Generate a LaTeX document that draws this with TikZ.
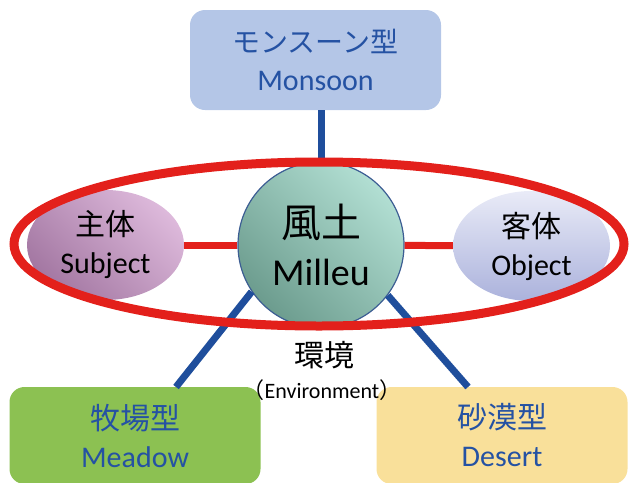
\documentclass[tikz,border=0pt]{standalone}
\usepackage{fontspec}
\setmainfont{Carlito}
\newfontfamily\jp{Noto Sans CJK JP}
\usetikzlibrary{shapes.geometric}

\definecolor{boxblue}{HTML}{B4C6E7}
\definecolor{boxgreen}{HTML}{8CC152}
\definecolor{boxyellow}{HTML}{F9E09A}
\definecolor{labelblue}{HTML}{2552A3}
\definecolor{linkblue}{HTML}{1F4E9C}
\definecolor{ringred}{HTML}{E3201B}
\definecolor{tealhi}{HTML}{B2DFD3}
\definecolor{teallo}{HTML}{6C9C8E}
\definecolor{plumhi}{HTML}{DDB9DB}
\definecolor{plumlo}{HTML}{A377A2}
\definecolor{lilachi}{HTML}{E9EBF7}
\definecolor{lilaclo}{HTML}{ABB2DC}

\begin{document}
\begin{tikzpicture}[x=1pt, y=-1pt,
    region/.style={rounded corners=15pt, minimum width=251pt, minimum height=100pt,
        inner sep=0pt, align=center, text=labelblue, font=\fontsize{30}{38}\selectfont},
    side/.style={ellipse, minimum width=157pt, minimum height=110pt, inner sep=0pt,
        align=center, font=\fontsize{30}{38}\selectfont},
    blueline/.style={linkblue, line width=7pt},
    redline/.style={ringred, line width=7pt}]
    \path[use as bounding box, clip] (0, 0) rectangle (629, 482);

    % Monsoon type
    \node[region, fill=boxblue] (monsoon) at (315.5, 60)
        {{\jp\fontsize{28}{38}\selectfont モンスーン型}\\Monsoon};
    % Meadow type
    \node[region, fill=boxgreen, minimum height=97pt] (meadow) at (135, 435.5)
        {{\jp 牧場型}\\Meadow};
    % Desert type
    \node[region, fill=boxyellow, minimum height=97pt] (desert) at (502, 435.5)
        {{\jp 砂漠型}\\Desert};

    % Milieu
    \node[circle, minimum size=166pt, inner sep=0pt, align=center,
        draw=linkblue!70!gray, line width=1.2pt,
        top color=tealhi, bottom color=teallo, shading angle=-45,
        font=\fontsize{38}{48}\selectfont] (milieu) at (321, 245)
        {{\jp\fontsize{40}{48}\selectfont 風土}\\Milleu};
    % Subject
    \node[side, top color=plumhi, bottom color=plumlo, shading angle=-45] (subject)
        at (105.5, 245) {{\jp 主体}\\Subject};
    % Object
    \node[side, top color=lilachi, bottom color=lilaclo] (object)
        at (531.5, 246) {{\jp 客体}\\Object};

    % free ends of the links on the lower boxes
    \coordinate (meadowlink) at (176, 387);
    \coordinate (desertlink) at (468, 387);

    % Links to the climate types
    \draw[blueline] (milieu) -- (milieu |- monsoon.south);
    \draw[blueline] (milieu.214) -- (meadowlink);
    \draw[blueline] (milieu.323) -- (desertlink);

    % Subject and object tied to the milieu
    \draw[redline] (subject) -- (milieu);
    \draw[redline] (milieu) -- (object);

    % Environment ring
    \draw[ringred, line width=9pt] (319, 244) ellipse [x radius=305, y radius=82];
    \node[font=\jp\fontsize{30}{36}\selectfont] (env) at (324, 355) {環境};
    \node[font=\fontsize{22}{26}\selectfont, inner sep=0pt] (envtext) at (322, 390)
        {{\jp （}Environment{\jp ）}};
\end{tikzpicture}
\end{document}
